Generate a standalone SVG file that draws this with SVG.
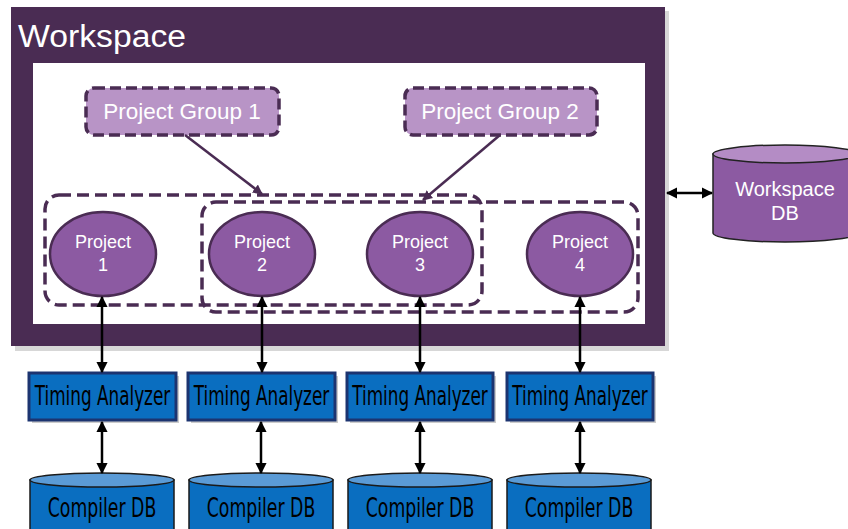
<svg xmlns="http://www.w3.org/2000/svg" width="848" height="529" viewBox="0 0 848 529">
<style>
.title{font-family:"Liberation Sans",Arial,sans-serif;font-size:31px;fill:#ffffff}
.pg{fill:#b894c6;stroke:#4a2c53;stroke-width:3.5;stroke-dasharray:11 5}
.pgt{font-family:"Liberation Sans",Arial,sans-serif;font-size:22.5px;fill:#ffffff;text-anchor:middle}
.grp{fill:none;stroke:#4a2c53;stroke-width:3.5;stroke-dasharray:12 6}
.proj{fill:#8c5aa2;stroke:#4a2c53;stroke-width:2.5}
.pt{font-family:"Liberation Sans",Arial,sans-serif;font-size:18px;fill:#ffffff;text-anchor:middle}
.ta{fill:#0a6ec0;stroke:#1c3470;stroke-width:3}
.tash{fill:#9a9a9a;opacity:0.5}
.tat{font-family:"DejaVu Sans Condensed","DejaVu Sans",sans-serif;font-size:26px;fill:#000000;text-anchor:middle}
.cdb{fill:#0a6ec0;stroke:#1a1a1a;stroke-width:1.5}
.cdbtop{fill:#5b9bd6;stroke:#1a1a1a;stroke-width:1.5}
.cdbt{font-family:"DejaVu Sans Condensed","DejaVu Sans",sans-serif;font-size:26px;fill:#000000;text-anchor:middle}
.wdb{fill:#8c5aa2;stroke:#222222;stroke-width:1.5}
.wdbtop{fill:#b48cc5;stroke:#222222;stroke-width:1.5}
.wdbt{font-family:"Liberation Sans",Arial,sans-serif;font-size:20px;fill:#ffffff;text-anchor:middle}
.blk{stroke:#000000;stroke-width:2.5;fill:none}
.pur{stroke:#4a2c53;stroke-width:2.5;fill:none}
</style>
<defs>
<marker id="ah" viewBox="0 0 10 10" refX="9" refY="5" markerWidth="4.5" markerHeight="4.5" orient="auto-start-reverse">
<path d="M0,0 L10,5 L0,10 z" fill="#000000"/>
</marker>
<marker id="ahp" viewBox="0 0 10 10" refX="9" refY="5" markerWidth="4" markerHeight="4" orient="auto">
<path d="M0,0 L10,5 L0,10 z" fill="#4a2c53"/>
</marker>
</defs>
<rect width="848" height="529" fill="#ffffff"/>

<g id="workspace">
<rect x="15" y="11" width="654" height="340" fill="#bdbdbd" opacity="0.6"/>
<rect x="11" y="7" width="654" height="339" fill="#4a2c53"/>
<rect x="33" y="63" width="612" height="261" fill="#ffffff"/>
<text class="title" x="18" y="47" textLength="168" lengthAdjust="spacingAndGlyphs">Workspace</text>
</g>

<g id="group-box-1"><rect class="grp" x="45" y="195" width="437" height="110" rx="14"/></g>
<g id="group-box-2"><rect class="grp" x="202" y="202" width="436" height="110" rx="14"/></g>

<g id="project-group-1">
<rect class="pg" x="86" y="88" width="193" height="47" rx="8"/>
<text class="pgt" x="182" y="119">Project Group 1</text>
</g>
<g id="project-group-2">
<rect class="pg" x="405" y="88" width="192" height="47" rx="8"/>
<text class="pgt" x="500" y="119">Project Group 2</text>
</g>

<g id="project-1">
<ellipse class="proj" cx="103" cy="254" rx="53" ry="42"/>
<text class="pt" x="103" y="248">Project</text><text class="pt" x="103" y="271">1</text>
</g>
<g id="project-2">
<ellipse class="proj" cx="262" cy="254" rx="53" ry="42"/>
<text class="pt" x="262" y="248">Project</text><text class="pt" x="262" y="271">2</text>
</g>
<g id="project-3">
<ellipse class="proj" cx="420" cy="254" rx="53" ry="42"/>
<text class="pt" x="420" y="248">Project</text><text class="pt" x="420" y="271">3</text>
</g>
<g id="project-4">
<ellipse class="proj" cx="580" cy="254" rx="53" ry="42"/>
<text class="pt" x="580" y="248">Project</text><text class="pt" x="580" y="271">4</text>
</g>

<g id="workspace-db">
<path class="wdb" d="M713,154 L713,233 A72,9 0 0 0 857,233 L857,154 z"/>
<ellipse class="wdbtop" cx="785" cy="154" rx="72" ry="9"/>
<text class="wdbt" x="785" y="196">Workspace</text>
<text class="wdbt" x="785" y="220">DB</text>
</g>

<g id="timing-analyzer-1">
<rect class="tash" x="32" y="376" width="147" height="47"/>
<rect class="ta" x="29" y="373" width="147" height="47"/>
<text class="tat" transform="translate(102.5,405) scale(0.72,1)">Timing Analyzer</text>
</g>
<g id="timing-analyzer-2">
<rect class="tash" x="191" y="376" width="147" height="47"/>
<rect class="ta" x="188" y="373" width="147" height="47"/>
<text class="tat" transform="translate(261.5,405) scale(0.72,1)">Timing Analyzer</text>
</g>
<g id="timing-analyzer-3">
<rect class="tash" x="350" y="376" width="146" height="47"/>
<rect class="ta" x="347" y="373" width="146" height="47"/>
<text class="tat" transform="translate(420,405) scale(0.72,1)">Timing Analyzer</text>
</g>
<g id="timing-analyzer-4">
<rect class="tash" x="510" y="376" width="146" height="47"/>
<rect class="ta" x="507" y="373" width="146" height="47"/>
<text class="tat" transform="translate(580,405) scale(0.72,1)">Timing Analyzer</text>
</g>

<g id="compiler-db-1">
<path class="cdb" d="M30,480 L30,540 L174,540 L174,480 z"/>
<ellipse class="cdbtop" cx="102" cy="480" rx="72" ry="7"/>
<text class="cdbt" transform="translate(102,517) scale(0.74,1)">Compiler DB</text>
</g>
<g id="compiler-db-2">
<path class="cdb" d="M189,480 L189,540 L333,540 L333,480 z"/>
<ellipse class="cdbtop" cx="261" cy="480" rx="72" ry="7"/>
<text class="cdbt" transform="translate(261,517) scale(0.74,1)">Compiler DB</text>
</g>
<g id="compiler-db-3">
<path class="cdb" d="M348,480 L348,540 L492,540 L492,480 z"/>
<ellipse class="cdbtop" cx="420" cy="480" rx="72" ry="7"/>
<text class="cdbt" transform="translate(420,517) scale(0.74,1)">Compiler DB</text>
</g>
<g id="compiler-db-4">
<path class="cdb" d="M507,480 L507,540 L651,540 L651,480 z"/>
<ellipse class="cdbtop" cx="579" cy="480" rx="72" ry="7"/>
<text class="cdbt" transform="translate(579,517) scale(0.74,1)">Compiler DB</text>
</g>

<g id="connectors">
<line class="pur" x1="185" y1="135" x2="262" y2="194" marker-end="url(#ahp)"/>
<line class="pur" x1="500" y1="135" x2="423" y2="200" marker-end="url(#ahp)"/>
<line class="blk" x1="667" y1="193" x2="712" y2="193" marker-start="url(#ah)" marker-end="url(#ah)"/>
<line class="blk" x1="102" y1="297" x2="102" y2="372" marker-start="url(#ah)" marker-end="url(#ah)"/>
<line class="blk" x1="262" y1="297" x2="262" y2="372" marker-start="url(#ah)" marker-end="url(#ah)"/>
<line class="blk" x1="420" y1="297" x2="420" y2="372" marker-start="url(#ah)" marker-end="url(#ah)"/>
<line class="blk" x1="580" y1="297" x2="580" y2="372" marker-start="url(#ah)" marker-end="url(#ah)"/>
<line class="blk" x1="102" y1="422" x2="102" y2="473" marker-start="url(#ah)" marker-end="url(#ah)"/>
<line class="blk" x1="261" y1="422" x2="261" y2="473" marker-start="url(#ah)" marker-end="url(#ah)"/>
<line class="blk" x1="420" y1="422" x2="420" y2="473" marker-start="url(#ah)" marker-end="url(#ah)"/>
<line class="blk" x1="580" y1="422" x2="580" y2="473" marker-start="url(#ah)" marker-end="url(#ah)"/>
</g>
</svg>
